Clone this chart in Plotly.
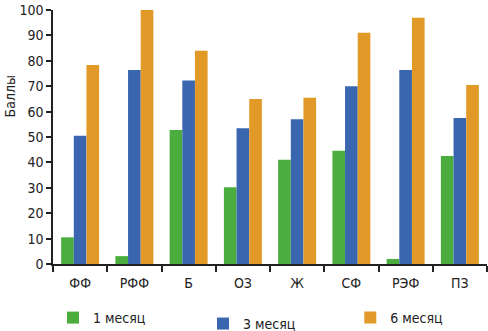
import plotly.graph_objects as go

categories = ["ФФ", "РФФ", "Б", "ОЗ", "Ж", "СФ", "РЭФ", "ПЗ"]
month1 = [10.5, 3.1, 52.8, 30.2, 41.0, 44.6, 2.0, 42.5]
month3 = [50.5, 76.4, 72.2, 53.4, 57.0, 70.0, 76.4, 57.5]
month6 = [78.3, 100.0, 84.0, 65.0, 65.5, 91.0, 96.9, 70.5]
series_names = ["1 месяц", "3 месяц", "6 месяц"]
y_ticks = [0, 10, 20, 30, 40, 50, 60, 70, 80, 90, 100]

colors = ["#4cad3f", "#3a66b0", "#e19a28"]
FONT = "DejaVu Sans Condensed, Liberation Sans Narrow, Liberation Sans, Arial, sans-serif"
FS = 14

fig = go.Figure()
for i, (name, vals) in enumerate(zip(series_names, [month1, month3, month6])):
    fig.add_trace(go.Bar(
        x=categories, y=vals, name=name,
        marker=dict(color=colors[i], line=dict(width=0)),
        legend="legend" if i == 0 else f"legend{i+1}",
        showlegend=True,
    ))

leg_common = dict(font=dict(family=FONT, size=FS, color="#222"),
                  bgcolor="rgba(0,0,0,0)", xanchor="left", yanchor="middle",
                  orientation="h", itemclick=False, visible=True)

fig.update_layout(
    width=488, height=331,
    margin=dict(l=53, r=1, t=10, b=67, autoexpand=False),
    paper_bgcolor="white", plot_bgcolor="white",
    showlegend=True,
    barmode="group", bargap=0.3, bargroupgap=0,
    font=dict(family=FONT, size=FS, color="#222"),
    legend=dict(x=0.0, y=-0.2126, **leg_common),
    legend2=dict(x=0.3456, y=-0.236, **leg_common),
    legend3=dict(x=0.685, y=-0.2126, **leg_common),
    xaxis=dict(
        showline=True, linecolor="#222", linewidth=1.5,
        ticks="outside", ticklen=6, tickwidth=1.5, tickcolor="#222",
        tickson="boundaries", showgrid=False, ticklabelstandoff=5,
        tickfont=dict(family=FONT, size=FS, color="#222"),
    ),
    yaxis=dict(
        range=[0, 100], tickvals=y_ticks,
        showline=True, linecolor="#222", linewidth=1.5,
        ticks="outside", ticklen=5, tickwidth=1.5, tickcolor="#222",
        showgrid=False, zeroline=False,
        tickfont=dict(family=FONT, size=FS, color="#222"),
    ),
    annotations=[dict(
        text="Баллы", xref="paper", yref="paper",
        x=-0.099, y=0.66, textangle=-90, showarrow=False,
        font=dict(family=FONT, size=FS, color="#222"),
        xanchor="center", yanchor="middle",
    )],
)

fig.write_html("out.html", config={"displayModeBar": False},
               post_script="document.body.style.margin='0';")
